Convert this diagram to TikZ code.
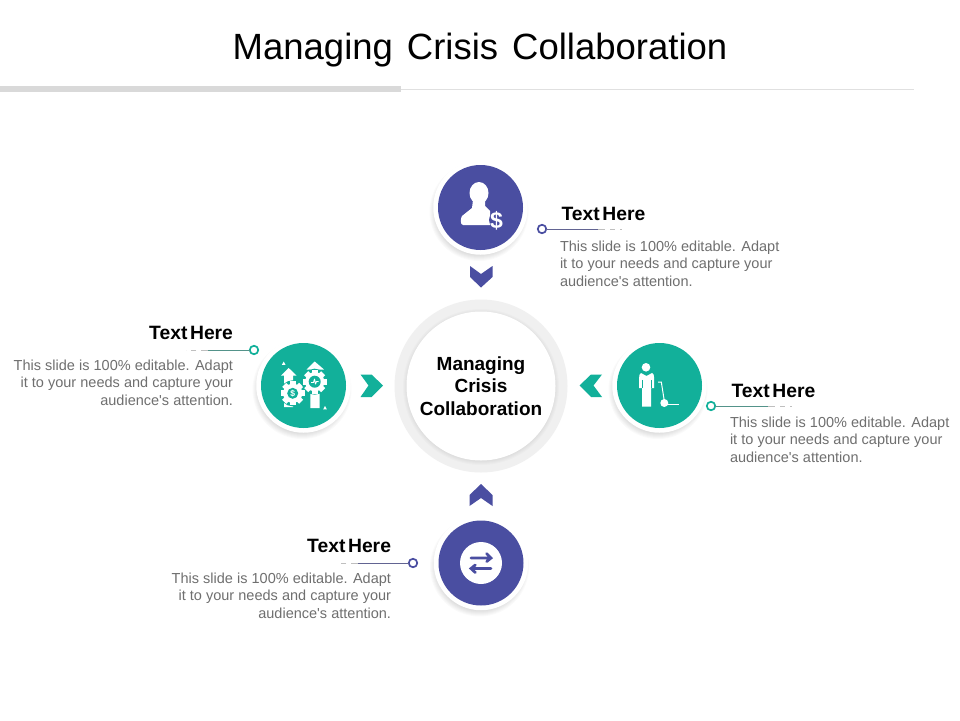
\documentclass[tikz,border=0pt]{standalone}
\usepackage{fontspec}
\setmainfont{Liberation Sans}
\usetikzlibrary{calc}
\definecolor{blueC}{HTML}{4A4EA1}
\definecolor{tealC}{HTML}{12B09A}
\definecolor{bodyC}{HTML}{6F6F6F}
\newcommand{\titlesp}{\spaceskip 14pt\relax}
\newcommand{\headsp}{\spaceskip 2.6pt\relax}
\newcommand{\bodysp}{\spaceskip 4.1pt\relax}
\newcommand{\softshadow}[3]{%
  \foreach \rr in {0,1,...,7}{
    \fill[black,opacity=0.018] (#1,#2) ++(-1.5,4) circle ({#3+2.5-\rr});
  }%
}
\newcommand{\gearshape}[4]{% x y r colour
  \foreach \aa in {0,45,...,315}{
    \fill[#4,rotate around={\aa:(#1,#2)}] ({#1-#3*0.24},{#2-#3}) rectangle ({#1+#3*0.24},{#2});
  }
  \fill[#4] (#1,#2) circle ({#3*0.8});
}
\tikzset{
  x=1pt,y=-1pt,
  every node/.style={inner sep=0pt,outer sep=0pt},
  titletext/.style={font=\fontsize{36.5}{40}\selectfont,text=black,execute at begin node=\titlesp},
  headtext/.style={font=\fontsize{19.3}{22}\selectfont\bfseries,text=black,execute at begin node=\headsp},
  bodytext/.style={font=\fontsize{14.5}{17.6}\selectfont,text=bodyC,execute at begin node=\bodysp},
  centertext/.style={font=\fontsize{19}{22.4}\selectfont\bfseries,text=black,align=center},
  disc/.style={circle,minimum size=85pt,fill=#1},
  ringdisc/.style={circle,minimum size=94.5pt,fill=white},
  dotmark/.style={circle,minimum size=8.5pt,draw=#1,line width=1.7pt,fill=white},
  leadline/.style={draw=#1,line width=0.7pt},
  leadfade/.style={draw=#1,line width=0.7pt,dash pattern=on 7pt off 5pt on 5pt off 5pt on 3pt off 100pt},
  chev/.style={fill=#1,draw=none},
  swaparrow/.style={draw=blueC,line width=2.8pt,line cap=round,line join=miter},
}
\begin{document}
\begin{tikzpicture}
\useasboundingbox (0,0) rectangle (960,720);
\fill[white] (0,0) rectangle (960,720);

% title
\node[titletext,anchor=center] (title) at (480,50) {Managing Crisis Collaboration};
\fill[gray!30] (0,86) rectangle (401,92);
\draw[black!12,line width=0.8pt] (401,89.5) -- (914,89.5);

% centre
\fill[black!6] (481,386) circle (86.5);
\foreach \rr in {0,1,...,4}{\fill[black,opacity=0.015] (481,387) circle ({78-\rr});}
\node[circle,minimum size=149pt,fill=white] (hub) at (481,386) {};
\node[centertext,anchor=center] (hubtext) at (481,386) {Managing\\Crisis\\Collaboration};

% satellites
\softshadow{480.5}{207.5}{47}
\softshadow{303.5}{385.5}{47}
\softshadow{659.5}{385.5}{47}
\softshadow{481}{563}{47}
\node[ringdisc] (topring) at (480.5,207.5) {};
\node[ringdisc] (leftring) at (303.5,385.5) {};
\node[ringdisc] (rightring) at (659.5,385.5) {};
\node[ringdisc] (botring) at (481,563) {};
\node[disc=blueC] (topc) at (480.5,207.5) {};
\node[disc=tealC] (leftc) at (303.5,385.5) {};
\node[disc=tealC] (rightc) at (659.5,385.5) {};
\node[disc=blueC] (botc) at (481,563) {};

% chevrons
\fill[chev=blueC] (470,266) -- (481,274) -- (492.5,266) -- (492.5,277) -- (481,287.5) -- (470,277) -- cycle;
\fill[chev=blueC] (469.5,506) -- (481,498) -- (492.5,506) -- (492.5,495) -- (481,484) -- (469.5,495) -- cycle;
\fill[chev=tealC] (360.5,374.5) -- (371.5,374.5) -- (383,385.5) -- (371.5,397) -- (360.5,397) -- (368.5,385.5) -- cycle;
\fill[chev=tealC] (602,374.5) -- (591,374.5) -- (579.5,385.5) -- (591,397) -- (602,397) -- (593.5,385.5) -- cycle;

% top icon: person with dollar
\fill[white] (479,193) ellipse (9.5 and 11);
\fill[white] (473,200) -- (485,200) -- (485,206) -- (490,211) -- (490,225) -- (463,225) .. controls (460,225) and (460.5,218) .. (462,216) -- (472,208) -- cycle;
\fill[blueC] (497,220) circle (8);
\node[font=\fontsize{23}{23}\selectfont\bfseries,text=white] (dollar) at (496.5,220.5) {\$};

% left icon: arrows with gears
\fill[white] (288.7,368) -- (296.5,375.5) -- (293,375.5) -- (293,407) -- (284,407) -- (284,375.5) -- (281,375.5) -- cycle;
\fill[white] (314.7,361.5) -- (324,369.5) -- (319.7,369.5) -- (319.7,408) -- (310.3,408) -- (310.3,369.5) -- (306.5,369.5) -- cycle;
\fill[tealC] (292.7,393.3) circle (13);
\gearshape{292.7}{393.3}{12}{white}
\fill[tealC] (292.7,393.3) circle (5.5);
\node[font=\fontsize{8.5}{9}\selectfont\bfseries,text=white] (gd) at (292.7,393.3) {\$};
\fill[tealC] (314.7,381.7) circle (13);
\gearshape{314.7}{381.7}{12}{white}
\fill[tealC] (314.7,381.7) circle (6);
\draw[white,line width=0.9pt,line join=round] (311,382.5) -- (313.5,382.5) -- (314.5,379) -- (315.5,384) -- (316.5,381.5) -- (318.5,381.5);
\fill[white] (283.7,361.5) -- (285.5,364.8) -- (281.9,364.8) -- cycle;
\fill[white] (325,406) -- (326.8,409.3) -- (323.2,409.3) -- cycle;

% right icon: person with trolley
\fill[white] (646,367.3) circle (4.3);
\fill[white] (641,373) -- (646.5,376) -- (652,373) .. controls (653.5,373.5) and (654,375) .. (654,377) -- (654,388) -- (651,388) -- (651,406.5) -- (642,406.5) -- (642,388) -- (639.2,388) -- (639.2,377) .. controls (639.2,375) and (639.7,373.5) .. (641,373) -- cycle;
\draw[tealC,line width=0.7pt] (642,380) -- (642,388) (651,380) -- (651,388);
\draw[white,line width=1pt] (658,382) -- (661.3,382) -- (664.3,401);
\fill[white] (664.3,403) circle (4);
\draw[white,line width=1pt] (664.3,404.5) -- (678.7,404.5);

% bottom icon: swap arrows
\node[circle,minimum size=42pt,fill=white] (swap) at (481,563) {};
\draw[swaparrow] (471,558) -- (491,558) (486.7,553.7) -- (491,558) -- (486.7,561.5);
\draw[swaparrow] (491,568.5) -- (471,568.5) (475.3,565) -- (471,568.5) -- (475.3,572.5);

% callouts
\node[dotmark=blueC] (dotT) at (542,229) {};
\coordinate (midT) at (598,229);
\coordinate (endT) at (622,229);
\draw[leadline=blueC!55!gray] (dotT) -- (midT);
\draw[leadfade=black!25] (midT) -- (endT);
\node[dotmark=tealC] (dotL) at (254,350) {};
\coordinate (midL) at (208,350);
\coordinate (endL) at (186,350);
\draw[leadline=tealC!40!gray] (dotL) -- (midL);
\draw[leadfade=black!25] (midL) -- (endL);
\node[dotmark=tealC] (dotR) at (711,406) {};
\coordinate (midR) at (768,406);
\coordinate (endR) at (792,406);
\draw[leadline=tealC!40!gray] (dotR) -- (midR);
\draw[leadfade=black!25] (midR) -- (endR);
\node[dotmark=blueC] (dotB) at (413,563) {};
\coordinate (midB) at (358,563);
\coordinate (endB) at (338,563);
\draw[leadline=blueC!55!gray] (dotB) -- (midB);
\draw[leadfade=black!25] (midB) -- (endB);

% texts
\node[headtext,anchor=base west] (headT) at (561.5,220) {Text Here};
\node[headtext,anchor=base east] (headL) at (233,339) {Text Here};
\node[headtext,anchor=base west] (headR) at (731.5,397) {Text Here};
\node[headtext,anchor=base east] (headB) at (391,552) {Text Here};
\node[bodytext,anchor=north west,align=left] (bodyT) at (560,240.5) {This slide is 100\% editable. Adapt\\it to your needs and capture your\\audience\textquotesingle s attention.};
\node[bodytext,anchor=north east,align=right] (bodyL) at (233,359.5) {This slide is 100\% editable. Adapt\\it to your needs and capture your\\audience\textquotesingle s attention.};
\node[bodytext,anchor=north west,align=left] (bodyR) at (730,416.5) {This slide is 100\% editable. Adapt\\it to your needs and capture your\\audience\textquotesingle s attention.};
\node[bodytext,anchor=north east,align=right] (bodyB) at (391,572.5) {This slide is 100\% editable. Adapt\\it to your needs and capture your\\audience\textquotesingle s attention.};
\end{tikzpicture}
\end{document}
